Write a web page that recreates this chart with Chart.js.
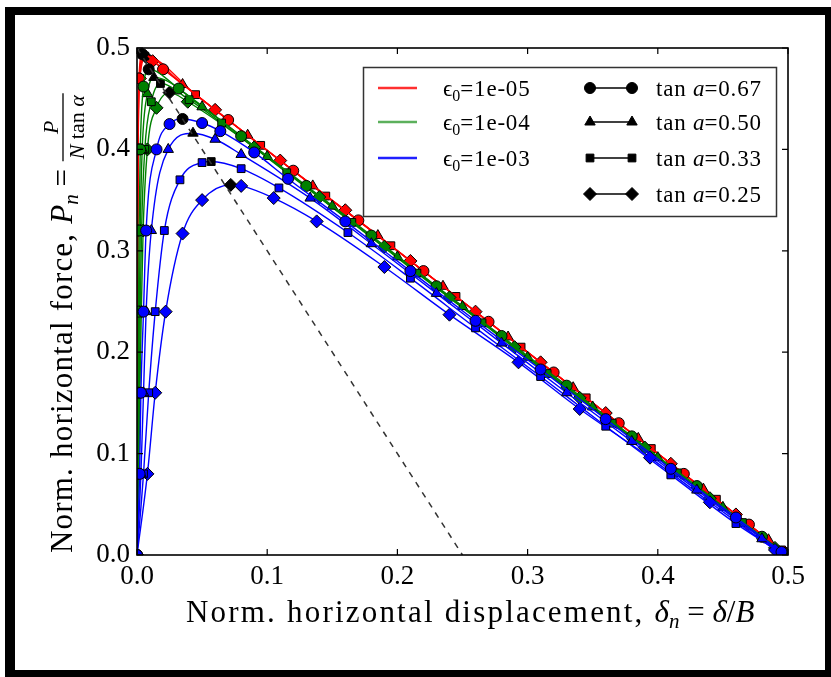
<!DOCTYPE html>
<html>
<head>
<meta charset="utf-8">
<script src="https://cdn.jsdelivr.net/npm/chart.js@4.4.1/dist/chart.umd.min.js"></script>
<style>
html, body { margin: 0; padding: 0; background: #fff; overflow: hidden; }
#wrap { position: absolute; left: 0; top: 0; width: 831px; height: 677px; }
</style>
</head>
<body>
<div id="wrap"><canvas id="c"></canvas></div>
<script>
// axis ticks
var xTicks = [0.0, 0.1, 0.2, 0.3, 0.4, 0.5];
var yTicks = [0.0, 0.1, 0.2, 0.3, 0.4, 0.5];

// legend labels
var epsLabels = ['1e-05', '1e-04', '1e-03'];
var tanLabels = ['0.67', '0.50', '0.33', '0.25'];

// eps0 = 1e-05 (red)
var red67 = [[0,0],[0.0001,0.08],[0.0002,0.16],[0.0003,0.24],[0.0004,0.32],[0.0006,0.40],[0.0015,0.47],[0.004,0.494],[0.02,0.479],[0.07,0.429],[0.12,0.379],[0.17,0.33],[0.22,0.28],[0.27,0.23],[0.32,0.18],[0.37,0.13],[0.42,0.08],[0.47,0.03],[0.498,0.002]];
var red50 = [[0,0],[0.0001,0.08],[0.0002,0.16],[0.0003,0.24],[0.0005,0.32],[0.0007,0.40],[0.0018,0.47],[0.005,0.493],[0.035,0.464],[0.085,0.414],[0.135,0.364],[0.185,0.315],[0.235,0.265],[0.285,0.215],[0.335,0.165],[0.385,0.115],[0.435,0.065],[0.485,0.015],[0.498,0.002]];
var red33 = [[0,0],[0.0001,0.08],[0.0002,0.16],[0.0004,0.24],[0.0005,0.32],[0.0008,0.40],[0.002,0.47],[0.006,0.492],[0.045,0.454],[0.095,0.404],[0.145,0.354],[0.195,0.305],[0.245,0.255],[0.295,0.205],[0.345,0.155],[0.395,0.105],[0.445,0.055],[0.495,0.005]];
var red25 = [[0,0],[0.0001,0.08],[0.0003,0.16],[0.0004,0.24],[0.0006,0.32],[0.0009,0.40],[0.0022,0.47],[0.007,0.491],[0.012,0.487],[0.06,0.439],[0.11,0.389],[0.16,0.34],[0.21,0.29],[0.26,0.24],[0.31,0.19],[0.36,0.14],[0.41,0.09],[0.46,0.04],[0.498,0.002]];

// eps0 = 1e-04 (green)
var green67 = [[0,0],[0.0005,0.08],[0.0008,0.16],[0.0012,0.24],[0.0016,0.32],[0.0025,0.40],[0.005,0.462],[0.009,0.479],[0.032,0.46],[0.08,0.413],[0.13,0.364],[0.18,0.315],[0.23,0.265],[0.28,0.216],[0.33,0.167],[0.38,0.117],[0.43,0.068],[0.48,0.018],[0.498,0.001]];
var green50 = [[0,0],[0.0007,0.08],[0.0012,0.16],[0.0018,0.24],[0.0025,0.32],[0.004,0.40],[0.008,0.455],[0.013,0.471],[0.05,0.442],[0.1,0.393],[0.15,0.344],[0.2,0.294],[0.25,0.245],[0.3,0.195],[0.35,0.146],[0.4,0.096],[0.45,0.047],[0.497,0.002]];
var green33 = [[0,0],[0.001,0.08],[0.0017,0.16],[0.0025,0.24],[0.0035,0.32],[0.006,0.40],[0.011,0.447],[0.018,0.465],[0.04,0.449],[0.065,0.426],[0.115,0.377],[0.165,0.328],[0.215,0.278],[0.265,0.229],[0.315,0.179],[0.365,0.13],[0.415,0.081],[0.465,0.032],[0.497,0.001]];
var green25 = [[0,0],[0.0013,0.08],[0.0022,0.16],[0.0033,0.24],[0.0047,0.32],[0.008,0.40],[0.015,0.441],[0.025,0.456],[0.039,0.447],[0.09,0.402],[0.14,0.353],[0.19,0.304],[0.24,0.254],[0.29,0.205],[0.34,0.155],[0.39,0.106],[0.44,0.056],[0.49,0.007]];

// eps0 = 1e-03 (blue)
var blue67 = [[0,0],[0.002,0.08],[0.003,0.16],[0.005,0.24],[0.007,0.32],[0.015,0.40],[0.025,0.425],[0.035,0.430],[0.05,0.426],[0.064,0.418],[0.09,0.397],[0.116,0.371],[0.16,0.329],[0.21,0.28],[0.26,0.231],[0.31,0.183],[0.36,0.134],[0.41,0.085],[0.46,0.037],[0.495,0.003]];
var blue50 = [[0,0],[0.003,0.08],[0.005,0.16],[0.007,0.24],[0.011,0.32],[0.024,0.40],[0.043,0.416],[0.06,0.41],[0.08,0.395],[0.133,0.352],[0.18,0.307],[0.23,0.258],[0.28,0.209],[0.33,0.16],[0.38,0.112],[0.43,0.064],[0.48,0.016],[0.495,0.002]];
var blue33 = [[0,0],[0.005,0.08],[0.009,0.16],[0.014,0.24],[0.021,0.32],[0.033,0.37],[0.05,0.387],[0.057,0.388],[0.08,0.381],[0.109,0.362],[0.162,0.318],[0.21,0.273],[0.26,0.224],[0.31,0.176],[0.36,0.127],[0.41,0.079],[0.46,0.031],[0.495,0.002]];
var blue25 = [[0,0],[0.008,0.08],[0.014,0.16],[0.022,0.24],[0.035,0.317],[0.05,0.35],[0.072,0.365],[0.08,0.364],[0.105,0.352],[0.138,0.329],[0.19,0.284],[0.24,0.237],[0.293,0.19],[0.34,0.144],[0.394,0.096],[0.44,0.052],[0.49,0.005]];

// dashed reference line
var dashLine = [[0,0.5],[0.25,0]];

var SERIF = '"Liberation Serif", "DejaVu Serif", serif';
var colors = ['#ff0000', '#008000', '#0000ff'];
var legendColors = ['#ff3030', '#5cb05c', '#2020ff'];
var markers = ['circle', 'triangle', 'rect', 'rectRot'];
var markerSize = [5.5, 6, 5.5, 6.5];

var curves = [
  [red67, red50, red33, red25],
  [green67, green50, green33, green25],
  [blue67, blue50, blue33, blue25]
];

function toXY(arr) {
  return arr.map(function (p) { return { x: p[0], y: p[1] }; });
}

// index of the highest point of a curve (its marker is drawn black)
function peakIndex(arr) {
  var best = 0;
  arr.forEach(function (p, i) { if (p[1] > arr[best][1]) best = i; });
  return best;
}

var datasets = [];
curves.forEach(function (group, e) {
  group.forEach(function (arr, t) {
    var pk = peakIndex(arr);
    datasets.push({
      label: 'eps=' + epsLabels[e] + ', tan a=' + tanLabels[t],
      data: toXY(arr),
      showLine: true,
      borderColor: colors[e],
      borderWidth: 1.4,
      cubicInterpolationMode: 'monotone',
      pointStyle: markers[t],
      pointRadius: markerSize[t],
      pointBackgroundColor: function (c) { return c.dataIndex === pk ? '#000' : colors[e]; },
      pointBorderColor: '#000',
      pointBorderWidth: 1,
      order: 3 - e
    });
  });
});
datasets.push({
  label: 'dashed',
  data: toXY(dashLine),
  showLine: true,
  borderColor: '#333',
  borderWidth: 1.5,
  borderDash: [6, 6],
  pointRadius: 0,
  order: 0
});

function runs(ctx, parts, x, y) {
  parts.forEach(function (p) {
    ctx.font = p.f;
    ctx.letterSpacing = p.ls || '0px';
    ctx.fillText(p.t, x, y + (p.dy || 0));
    x += ctx.measureText(p.t).width;
  });
  ctx.letterSpacing = '0px';
  return x;
}

var decor = {
  id: 'decor',
  beforeDraw: function (chart) {
    var ctx = chart.ctx;
    ctx.save();
    ctx.fillStyle = '#fff';
    ctx.fillRect(0, 0, chart.width, chart.height);
    ctx.restore();
  },
  afterDraw: function (chart) {
    var ctx = chart.ctx;
    var a = chart.chartArea;
    var xs = chart.scales.x, ys = chart.scales.y;
    ctx.save();

    // frame and inward ticks
    ctx.strokeStyle = '#000';
    ctx.lineWidth = 1.6;
    ctx.strokeRect(a.left, a.top, a.right - a.left, a.bottom - a.top);
    ctx.lineWidth = 1.2;
    ctx.beginPath();
    xTicks.forEach(function (v) {
      var px = xs.getPixelForValue(v);
      ctx.moveTo(px, a.bottom); ctx.lineTo(px, a.bottom - 6);
      ctx.moveTo(px, a.top); ctx.lineTo(px, a.top + 6);
    });
    yTicks.forEach(function (v) {
      var py = ys.getPixelForValue(v);
      ctx.moveTo(a.left, py); ctx.lineTo(a.left + 6, py);
      ctx.moveTo(a.right, py); ctx.lineTo(a.right - 6, py);
    });
    ctx.stroke();

    // legend
    ctx.fillStyle = '#fff';
    ctx.fillRect(363, 67, 414, 149);
    ctx.strokeStyle = '#333';
    ctx.lineWidth = 1.5;
    ctx.strokeRect(363.5, 67.5, 413, 149);
    var rows = [88, 122, 158, 194];
    ctx.fillStyle = '#000';
    ctx.textBaseline = 'alphabetic';
    ctx.textAlign = 'left';
    epsLabels.forEach(function (lab, i) {
      ctx.strokeStyle = legendColors[i];
      ctx.lineWidth = 2.5;
      ctx.beginPath();
      ctx.moveTo(378, rows[i]); ctx.lineTo(417, rows[i]);
      ctx.stroke();
      ctx.fillStyle = '#000';
      runs(ctx, [
        { t: '\u03F5', f: '23px ' + SERIF },
        { t: '0', f: '16px ' + SERIF, dy: 5 },
        { t: '=' + lab, f: '23px ' + SERIF, ls: '0.8px' }
      ], 443, rows[i] + 8);
    });
    tanLabels.forEach(function (lab, i) {
      ctx.strokeStyle = '#000';
      ctx.lineWidth = 1.5;
      ctx.beginPath();
      ctx.moveTo(590, rows[i]); ctx.lineTo(632, rows[i]);
      ctx.stroke();
      ctx.fillStyle = '#000';
      ctx.lineWidth = 1;
      [590, 632].forEach(function (mx) {
        Chart.helpers.drawPoint(ctx, { pointStyle: markers[i], radius: markerSize[i], rotation: 0, borderWidth: 1 }, mx, rows[i]);
      });
      runs(ctx, [
        { t: 'tan ', f: '23px ' + SERIF, ls: '0.8px' },
        { t: 'a', f: 'italic 23px ' + SERIF },
        { t: '=' + lab, f: '23px ' + SERIF, ls: '0.8px' }
      ], 656, rows[i] + 8);
    });

    // x axis title
    ctx.fillStyle = '#000';
    runs(ctx, [
      { t: 'Norm. horizontal displacement, ', f: '31px ' + SERIF, ls: '2.2px' },
      { t: '\u03B4', f: 'italic 31px ' + SERIF },
      { t: 'n', f: 'italic 21px ' + SERIF, dy: 6 },
      { t: ' = ', f: '31px ' + SERIF },
      { t: '\u03B4', f: 'italic 31px ' + SERIF },
      { t: '/', f: '31px ' + SERIF },
      { t: 'B', f: 'italic 31px ' + SERIF }
    ], 186, 622);

    // y axis title (rotated, with fraction)
    ctx.translate(72, 553);
    ctx.rotate(-Math.PI / 2);
    var x = runs(ctx, [
      { t: 'Norm. horizontal force, ', f: '31px ' + SERIF, ls: '1.2px' },
      { t: 'P', f: 'italic 31px ' + SERIF },
      { t: 'n', f: 'italic 21px ' + SERIF, dy: 6 },
      { t: ' = ', f: '31px ' + SERIF }
    ], 0, 0);
    ctx.font = 'italic 22px ' + SERIF;
    var wN = ctx.measureText('N').width;
    var wA = ctx.measureText('\u03B1').width;
    ctx.font = '22px ' + SERIF;
    var wT = ctx.measureText(' tan ').width;
    var wd = wN + wT + wA;
    runs(ctx, [
      { t: 'N', f: 'italic 22px ' + SERIF },
      { t: ' tan ', f: '22px ' + SERIF },
      { t: '\u03B1', f: 'italic 22px ' + SERIF }
    ], x + 2, 12);
    ctx.font = 'italic 22px ' + SERIF;
    var wP = ctx.measureText('P').width;
    ctx.fillText('P', x + 2 + (wd - wP) / 2, -14);
    ctx.strokeStyle = '#000';
    ctx.lineWidth = 1.3;
    ctx.beginPath();
    ctx.moveTo(x, -9); ctx.lineTo(x + wd + 4, -9);
    ctx.stroke();
    ctx.restore();

    // outer black frame
    ctx.save();
    ctx.fillStyle = '#000';
    ctx.fillRect(5, 7, 826, 8);
    ctx.fillRect(5, 7, 10, 670);
    ctx.fillRect(5, 670, 826, 7);
    ctx.fillRect(825, 7, 6, 670);
    ctx.restore();
  }
};

new Chart(document.getElementById('c'), {
  type: 'scatter',
  data: { datasets: datasets },
  options: {
    responsive: true,
    maintainAspectRatio: false,
    animation: false,
    layout: { padding: { left: 92, right: 43, top: 48, bottom: 0 } },
    plugins: { legend: { display: false }, tooltip: { enabled: false } },
    scales: {
      x: {
        type: 'linear', min: 0, max: 0.5,
        afterFit: function (s) { s.height = 122; },
        afterBuildTicks: function (s) { s.ticks = xTicks.map(function (v) { return { value: v }; }); },
        grid: { display: false, drawTicks: false },
        border: { display: false },
        ticks: { padding: 6, color: '#000', font: { family: SERIF, size: 27 }, callback: function (v) { return v.toFixed(1); } }
      },
      y: {
        type: 'linear', min: 0, max: 0.5,
        afterFit: function (s) { s.width = 45; },
        afterBuildTicks: function (s) { s.ticks = yTicks.map(function (v) { return { value: v }; }); },
        grid: { display: false, drawTicks: false },
        border: { display: false },
        ticks: { padding: 7, color: '#000', font: { family: SERIF, size: 27 }, callback: function (v) { return v.toFixed(1); } }
      }
    }
  },
  plugins: [decor]
});
</script>
</body>
</html>
